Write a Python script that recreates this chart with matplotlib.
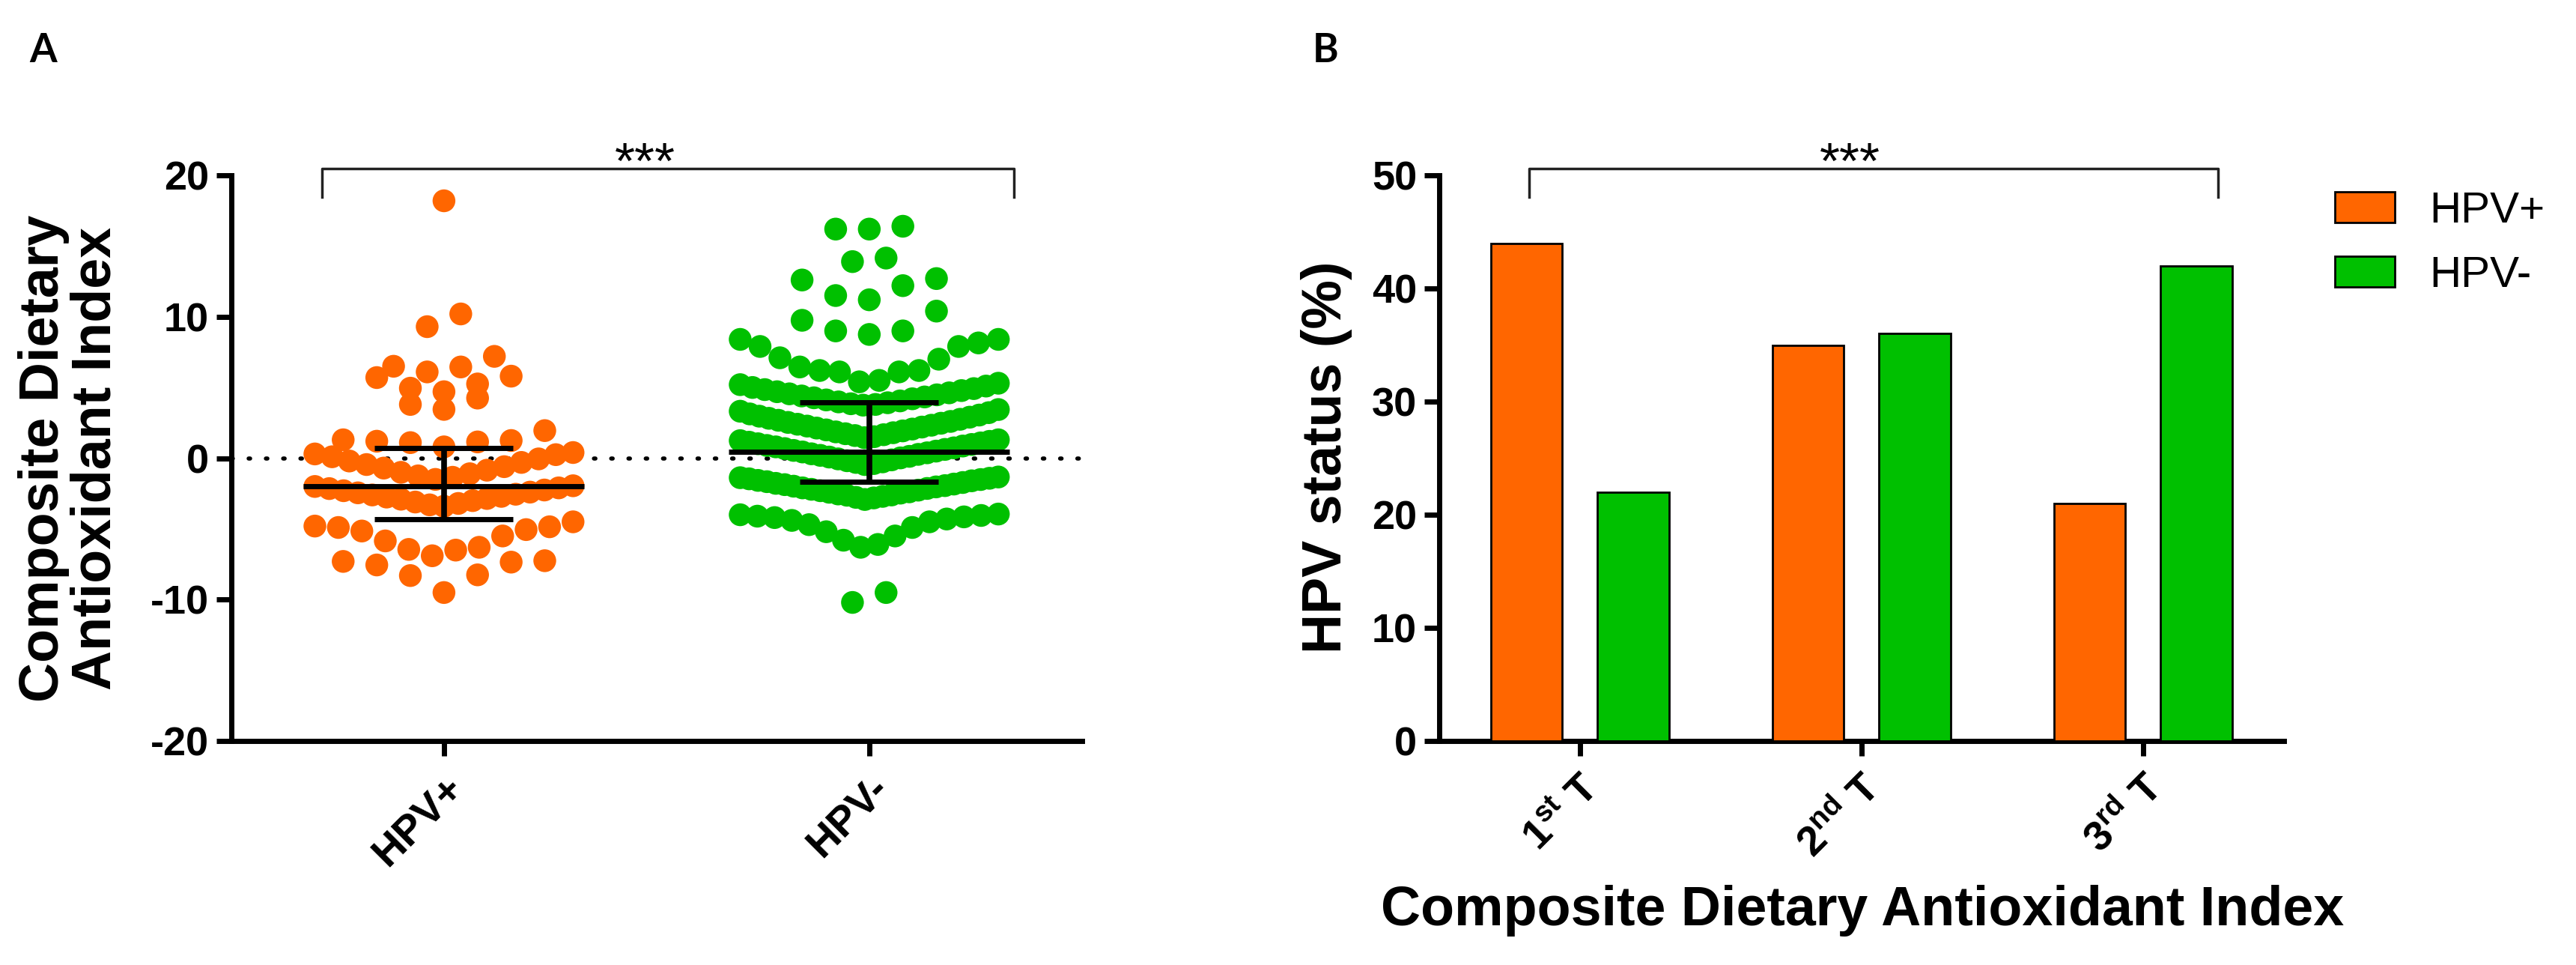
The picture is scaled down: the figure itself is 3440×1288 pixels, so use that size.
import numpy as np
import matplotlib
matplotlib.use('Agg')
import matplotlib.pyplot as plt
from matplotlib.patches import Patch

plt.rcParams['font.family'] = ['Liberation Sans', 'DejaVu Sans']
plt.rcParams['font.weight'] = 'bold'
plt.rcParams['axes.unicode_minus'] = False
plt.rcParams['mathtext.default'] = 'regular'

ORANGE = '#FF6600'
GREEN = '#00C000'

# ---- panel A: CDAI per subject ----
groups = ['HPV+', 'HPV-']
hpv_pos = [
    18.2,
    10.2, 9.3,
    7.2, 6.5, 6.45, 6.1,
    5.8, 5.7, 5.25, 4.95, 4.7,
    4.25, 3.8, 3.45,
    1.95, 1.3, 1.25, 1.2, 1.15, 1.1, 0.8,
    0.4, 0.3, 0.25, 0.1, -0.05, -0.2, -0.3, -0.45, -0.6, -0.7, -0.85, -1.0,
    -1.1, -1.25, -1.35, -1.5,
    -1.95, -2.0, -2.1, -2.15, -2.25, -2.3, -2.4, -2.45, -2.55, -2.6, -2.7,
    -2.75, -2.85, -2.9, -3.0, -3.1, -3.2, -3.3, -3.4,
    -4.5, -4.8, -4.85, -4.9, -5.05, -5.15, -5.5, -5.85, -6.3, -6.45, -6.5, -6.9,
    -7.25, -7.3, -7.35, -7.55, -8.25, -8.3, -9.5,
]
hpv_neg = [
    16.2, 16.4, 16.2,
    14.15, 13.9,
    12.7, 12.6, 12.2, 11.5, 11.2,
    10.4, 9.75, 9.0, 9.0, 8.75,
    8.4, 8.4, 8.15, 7.9, 7.9, 7.1, 7.0, 6.45, 6.2, 6.2, 6.1, 6.1, 5.5, 5.4,
    5.3, 5.2, 5.1, 5.0, 4.92, 4.85, 4.78, 4.7, 4.62, 4.55, 4.48, 4.4, 4.33,
    4.27, 4.2, 4.12, 4.05, 3.98, 3.92, 3.85, 3.8, 3.75,
    3.44, 3.32, 3.22, 3.13, 3.05, 2.97, 2.9, 2.82, 2.75, 2.68, 2.6, 2.53,
    2.47, 2.4, 2.33, 2.27, 2.2, 2.13, 2.06, 2.0, 1.93, 1.86, 1.8, 1.73, 1.66,
    1.6, 1.52, 1.45,
    1.3, 1.24, 1.19, 1.13, 1.08, 1.02, 0.97, 0.9, 0.86, 0.8, 0.73, 0.68, 0.62,
    0.55, 0.5, 0.44, 0.38, 0.31, 0.27, 0.2, 0.13, 0.08, 0.02, -0.05, -0.12,
    -0.18, -0.26, -0.3, -0.38, -0.45,
    -1.33, -1.38, -1.42, -1.46, -1.51, -1.57, -1.6, -1.66, -1.72, -1.78, -1.83,
    -1.87, -1.94, -1.98, -2.03, -2.1, -2.14, -2.2, -2.26, -2.3, -2.38, -2.41,
    -2.47, -2.53, -2.6, -2.62, -2.7, -2.77, -2.81, -2.92,
    -3.95, -4.0, -4.05, -4.1, -4.15, -4.2, -4.3, -4.4, -4.5, -4.7, -4.9, -5.2,
    -5.5, -5.8, -6.1, -6.3,
    -9.5, -10.2,
]
# median and interquartile range shown over the dots
medians = [-2.0, 0.45]
q1 = [-4.3, -1.67]
q3 = [0.7, 3.96]

# ---- panel B: HPV status by CDAI tertile ----
tertiles = ['1$^{st}$ T', '2$^{nd}$ T', '3$^{rd}$ T']
pct_pos = [44, 35, 21]
pct_neg = [22, 36, 42]

# row bands used to lay the dots out side by side (Prism style)
pos_edges = [-10, -7.0, -4.0, -1.7, 0.6, 2.5, 4.5, 6.0, 8.0, 15, 20]
neg_edges = [-11, -7, -3.4, -0.9, 1.4, 3.6, 5.33, 8.6, 10.8, 13.3, 15.2, 18]


def swarm_offsets(values, edges, max_step=0.079, max_width=0.607):
    vals = np.asarray(values, dtype=float)
    xs = np.zeros(len(vals))
    bins = np.digitize(vals, edges)
    for b in np.unique(bins):
        idx = np.where(bins == b)[0]
        idx = idx[np.argsort(vals[idx], kind='stable')]
        n = len(idx)
        step = max_step if n < 2 else min(max_step, max_width / (n - 1))
        slots = (np.arange(n) - (n - 1) / 2) * step
        order = np.argsort(np.abs(slots) + 1e-9 * np.arange(n) * np.sign(slots), kind='stable')
        xs[idx] = slots[order]
    return xs


fig = plt.figure(figsize=(34.4, 12.88), dpi=100)
axA = fig.add_axes([0.0898, 0.2321, 0.3302, 0.5862])
axB = fig.add_axes([0.5587, 0.2321, 0.3279, 0.5862])

for ax in (axA, axB):
    ax.spines[['top', 'right']].set_visible(False)
    ax.spines[['left', 'bottom']].set_linewidth(5)
    ax.tick_params(length=14.4, width=5, labelsize=39, pad=7)
    ax.tick_params(axis='x', pad=12)

# panel A
colors = [ORANGE, GREEN]
edges = [pos_edges, neg_edges]
for i, vals in enumerate([hpv_pos, hpv_neg]):
    x = i + swarm_offsets(vals, edges[i])
    axA.scatter(x, vals, s=480, color=colors[i], edgecolors='none', zorder=3)
    axA.hlines(medians[i], i - 0.33, i + 0.33, color='k', lw=5, zorder=5)
    axA.hlines([q1[i], q3[i]], i - 0.163, i + 0.163, color='k', lw=5, zorder=5)
    axA.vlines(i, q1[i], q3[i], color='k', lw=5.5, zorder=5)

axA.axhline(0, color='k', lw=4, ls=(0, (0.35, 3.8)), dash_capstyle='round', zorder=2)
axA.set_xlim(-0.5, 1.5)
axA.set_ylim(-20, 20)
axA.set_yticks([-20, -10, 0, 10, 20])
axA.set_xticks([0, 1])
axA.set_xticklabels(groups, rotation=45, ha='right', rotation_mode='anchor', fontsize=40)
axA.plot([-0.287, -0.287, 1.34, 1.34], [18.46, 20.48, 20.48, 18.46],
         color='#222222', lw=2.5, clip_on=False)
axA.text(0.472, 19.79, '***', ha='center', va='baseline', fontsize=50,
         fontweight='normal', clip_on=False)

# panel B
xb = np.arange(len(tertiles))
axB.bar(xb - 0.189, pct_pos, width=0.253, color=ORANGE, edgecolor='k', lw=2, zorder=3)
axB.bar(xb + 0.189, pct_neg, width=0.253, color=GREEN, edgecolor='k', lw=2, zorder=3)
axB.set_xlim(-0.5, 2.5)
axB.set_ylim(0, 50)
axB.set_yticks(range(0, 51, 10))
axB.set_xticks(xb)
axB.set_xticklabels(tertiles, rotation=45, ha='right', rotation_mode='anchor', fontsize=40)
axB.plot([-0.181, -0.181, 2.266, 2.266], [48.08, 50.6, 50.6, 48.08],
         color='#222222', lw=2.5, clip_on=False)
axB.text(0.96, 49.74, '***', ha='center', va='baseline', fontsize=50,
         fontweight='normal', clip_on=False)

handles = [Patch(facecolor=ORANGE, edgecolor='k', lw=2, label='HPV+'),
           Patch(facecolor=GREEN, edgecolor='k', lw=2, label='HPV-')]
fig.legend(handles=handles, loc='upper left', bbox_to_anchor=(3118 / 3440, 1 - 255 / 1288),
           frameon=False, prop={'size': 42, 'weight': 'normal'}, borderpad=0,
           borderaxespad=0, handlelength=1.37, handleheight=0.69,
           handletextpad=0.8, labelspacing=0.55)

# labels
fig.text(93 / 3440, 0.525, 'Composite Dietary\nAntioxidant Index', rotation=90,
         ha='center', va='center', multialignment='center', linespacing=1.0, fontsize=53)
fig.text(1772 / 3440, 0.5264, 'HPV status (%)', rotation=90, ha='center', va='center',
         fontsize=53)
fig.text(2487 / 3440, 1 - 1235 / 1288, 'Composite Dietary Antioxidant Index',
         ha='center', va='baseline', fontsize=53)
fig.text(39 / 3440, 1 - 83 / 1288, 'A', fontsize=38, family=['Lato', 'Liberation Sans'],
         ha='left', va='baseline')
fig.text(1753 / 3440, 1 - 83 / 1288, 'B', fontsize=38, family=['Lato', 'Liberation Sans'],
         ha='left', va='baseline')

fig.savefig('out.png', dpi=100)
